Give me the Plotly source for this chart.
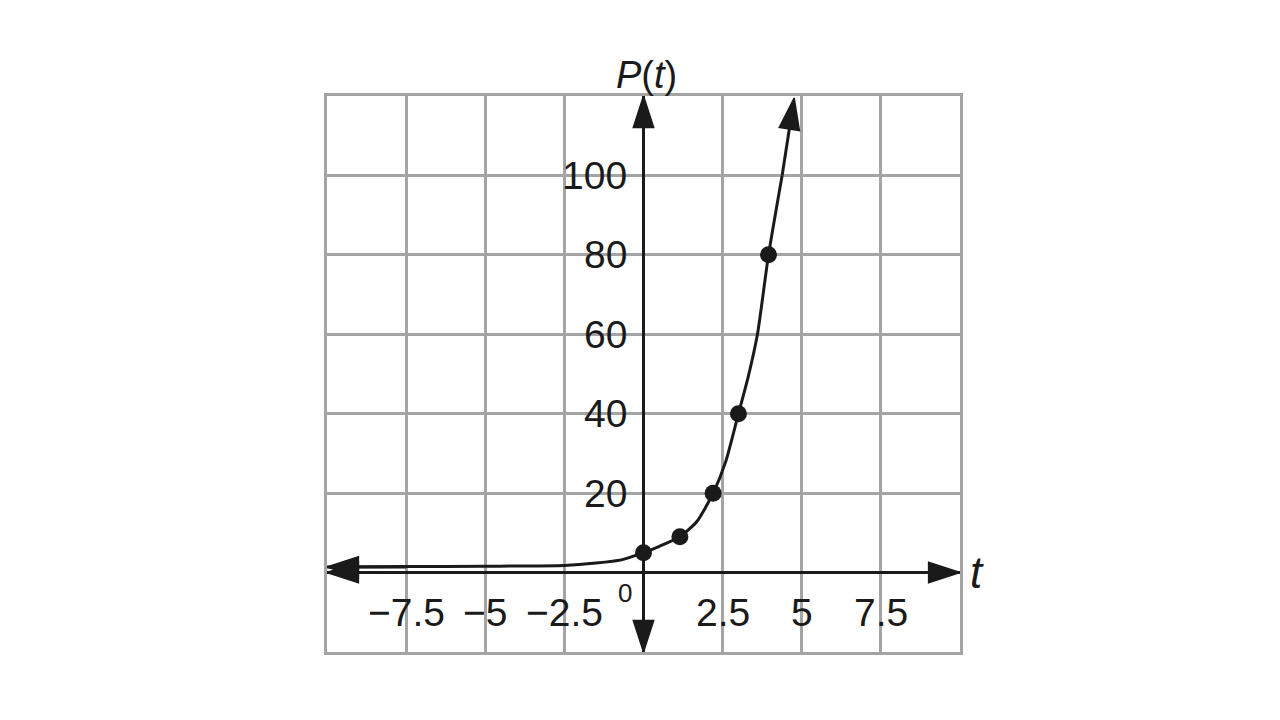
import plotly.graph_objects as go

# Data
pt_t = [0, 1.15, 2.2, 3.0, 3.95]
pt_p = [5, 9, 20, 40, 80]

curve_t = [-10, -7.5, -5, -2.5, -1.5, -0.7, 0, 0.5, 1.15, 1.7, 2.2, 2.6, 3.0, 3.3, 3.6, 3.95, 4.38]
curve_p = [1.4, 1.5, 1.6, 1.8, 2.4, 3.2, 5, 6.6, 9, 13, 20, 28, 40, 49, 60, 80, 100]
curve_tip = (4.76, 119.5)

x_range = [-10, 10]
y_range = [-20, 120]

xtick_vals = [-7.5, -5, -2.5, 2.5, 5, 7.5]
xtick_text = ["\u22127.5", "\u22125", "\u22122.5", "2.5", "5", "7.5"]
ytick_vals = [20, 40, 60, 80, 100]
ytick_text = ["20", "40", "60", "80", "100"]

FONT = "Liberation Sans, Arial, sans-serif"
INK = "#1a1a1a"
HEAD = 33

fig = go.Figure()

# axes lines
fig.add_trace(go.Scatter(x=x_range, y=[0, 0], mode="lines", line=dict(color=INK, width=3),
                         hoverinfo="skip", cliponaxis=False))
fig.add_trace(go.Scatter(x=[0, 0], y=y_range, mode="lines", line=dict(color=INK, width=3),
                         hoverinfo="skip", cliponaxis=False))

# curve
fig.add_trace(go.Scatter(x=curve_t, y=curve_p, mode="lines",
                         line=dict(color=INK, width=3, shape="spline", smoothing=0.6),
                         hoverinfo="skip", cliponaxis=False))


def head(tx, ty, hx, hy):
    return go.Scatter(x=[tx, hx], y=[ty, hy], mode="lines+markers",
                      line=dict(color=INK, width=3), opacity=1,
                      marker=dict(symbol="arrow", size=[0, HEAD], angleref="previous",
                                  color=INK, opacity=1, line=dict(width=1.5, color=INK)),
                      hoverinfo="skip", cliponaxis=False)


fig.add_trace(head(x_range[0] + 1, 0, x_range[0], 0))
fig.add_trace(head(x_range[1] - 1, 0, x_range[1], 0))
fig.add_trace(head(0, y_range[1] - 10, 0, y_range[1]))
fig.add_trace(head(0, y_range[0] + 10, 0, y_range[0]))
fig.add_trace(head(curve_t[1], curve_p[0], curve_t[0], curve_p[0]))
fig.add_trace(head(curve_t[-1], curve_p[-1], curve_tip[0], curve_tip[1]))

# points
fig.add_trace(go.Scatter(x=pt_t, y=pt_p, mode="markers",
                         marker=dict(color=INK, size=17, opacity=1), cliponaxis=False))

annotations = []
for v, t in zip(xtick_vals, xtick_text):
    annotations.append(dict(x=v, y=-10.1, xref="x", yref="y", text=t, showarrow=False,
                            font=dict(family=FONT, size=39, color=INK),
                            xanchor="center", yanchor="middle"))
for v, t in zip(ytick_vals, ytick_text):
    annotations.append(dict(x=-0.47, y=v, xref="x", yref="y", text=t, showarrow=False,
                            font=dict(family=FONT, size=39, color=INK),
                            xanchor="right", yanchor="middle"))
annotations.append(dict(x=-0.57, y=-5.2, xref="x", yref="y", text="0", showarrow=False,
                        font=dict(family=FONT, size=26, color=INK),
                        xanchor="center", yanchor="middle"))
annotations.append(dict(x=0.1, y=120, xref="x", yref="y", text="<i>P</i>(<i>t</i>)",
                        showarrow=False, font=dict(family=FONT, size=38, color=INK),
                        xanchor="center", yanchor="bottom", yshift=-2))
annotations.append(dict(x=10, y=0, xref="x", yref="y", text="<i>t</i>",
                        showarrow=False, font=dict(family=FONT, size=44, color=INK),
                        xanchor="left", yanchor="middle", xshift=8))

grid = dict(showgrid=True, gridcolor="#a4a4a4", gridwidth=3, zeroline=False,
            showticklabels=False, ticks="", showline=True, linecolor="#a4a4a4",
            linewidth=3, mirror=True, fixedrange=True)

fig.update_layout(
    width=1280, height=720,
    margin=dict(l=327, r=320, t=96, b=68),
    plot_bgcolor="white", paper_bgcolor="white",
    xaxis=dict(range=x_range, dtick=2.5, tick0=0, **grid),
    yaxis=dict(range=y_range, dtick=20, tick0=0, **grid),
    annotations=annotations,
    showlegend=False,
)

fig.write_html("out.html", config={"displayModeBar": False},
               post_script="document.body.style.margin='0';")
